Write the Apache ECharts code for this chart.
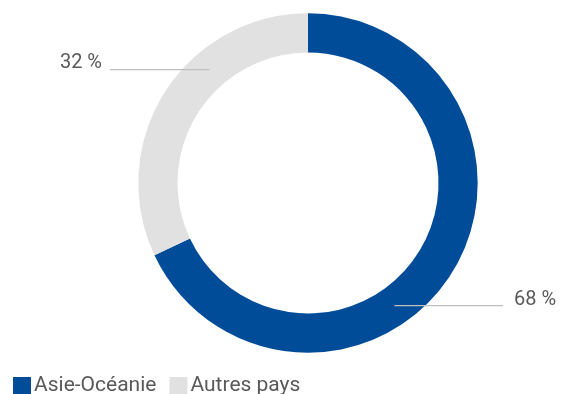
<!DOCTYPE html>
<html>
<head>
<meta charset="utf-8">
<script src="https://cdn.jsdelivr.net/npm/echarts@6/dist/echarts.min.js"></script>
<style>
html,body{margin:0;padding:0;background:#fff;}
#c{width:566px;height:394px;}
</style>
</head>
<body>
<div id="c"></div>
<script>
const categories = ['Asie-Océanie', 'Autres pays'];
const values = [68, 32];
const colors = ['#004C99', '#E1E1E1'];

const CX = 308, CY = 183, R_IN = 130.5, R_OUT = 169.7;
const RM = (R_IN + R_OUT) / 2;
// label placement (layout only)
const labelCfg = [
  { side: 1, lineY: 305.7, lineEnd: 503, textX: 514, textY: 300 },
  { side: -1, lineY: 69.7, lineEnd: 110, textX: 102, textY: 62.5 }
];
const seriesData = categories.map((n, i) => ({ name: n, value: values[i] }));

const chart = echarts.init(document.getElementById('c'), null, { renderer: 'canvas' });
chart.setOption({
  animation: false,
  color: colors,
  legend: {
    left: 8,
    top: 370,
    itemWidth: 18,
    itemHeight: 17,
    itemGap: 13,
    icon: 'rect',
    selectedMode: false,
    textStyle: { fontFamily: 'Roboto', fontSize: 21, color: '#595959', padding: [0, 0, 0, -2] },
    data: categories
  },
  series: [{
    type: 'pie',
    z: 2,
    center: [CX, CY],
    radius: [R_IN, R_OUT],
    startAngle: 90,
    clockwise: true,
    emphasis: { disabled: true },
    label: { show: false },
    labelLine: { show: false },
    data: seriesData
  }, {
    type: 'pie',
    z: 5,
    silent: true,
    center: [CX, CY],
    radius: [R_IN, R_OUT],
    startAngle: 90,
    clockwise: true,
    emphasis: { disabled: true },
    itemStyle: { color: 'rgba(0,0,0,0)' },
    label: {
      show: true,
      formatter: '{c} %',
      fontFamily: 'Roboto',
      fontSize: 20,
      color: '#595959'
    },
    labelLine: {
      show: true,
      showAbove: true,
      lineStyle: { color: '#BFBFBF', width: 1.3 }
    },
    labelLayout: function (params) {
      const cfg = labelCfg[params.dataIndex];
      const dy = cfg.lineY - CY;
      const x0 = CX + cfg.side * Math.sqrt(RM * RM - dy * dy);
      return {
        x: cfg.textX,
        y: cfg.textY,
        align: cfg.side > 0 ? 'left' : 'right',
        verticalAlign: 'middle',
        labelLinePoints: [[x0, cfg.lineY], [x0, cfg.lineY], [cfg.lineEnd, cfg.lineY]]
      };
    },
    data: seriesData
  }]
});
</script>
</body>
</html>
